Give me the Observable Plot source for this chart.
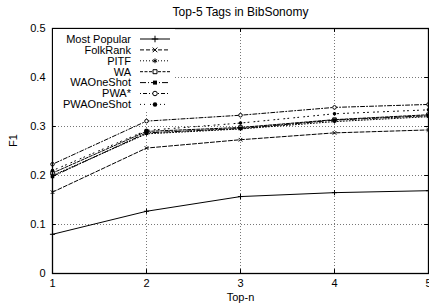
<!DOCTYPE html>
<html>
<head>
<meta charset="utf-8">
<script src="https://cdn.jsdelivr.net/npm/d3@7"></script>
<script src="https://cdn.jsdelivr.net/npm/@observablehq/plot@0.6"></script>
<style>
  html, body { margin: 0; padding: 0; background: #fff; }
  body { width: 429px; height: 307px; overflow: hidden; font-family: "Liberation Sans", Arial, sans-serif; }
  #title { height: 22px; line-height: 24px; font-size: 12px; text-align: center; padding-left: 52px; box-sizing: border-box; color: #000; }
  svg { display: block; }
</style>
</head>
<body>
<div id="title">Top-5 Tags in BibSonomy</div>
<div id="chart"></div>
<script>
const topN = [1, 2, 3, 4, 5];
const seriesNames = ["Most Popular", "FolkRank", "PITF", "WA", "WAOneShot", "PWA*", "PWAOneShot"];
const mostPopular = [0.080, 0.127, 0.157, 0.165, 0.169];
const folkRank    = [0.166, 0.256, 0.273, 0.287, 0.293];
const pitf        = [0.200, 0.285, 0.295, 0.310, 0.320];
const wa          = [0.205, 0.290, 0.298, 0.314, 0.324];
const waOneShot   = [0.198, 0.287, 0.296, 0.313, 0.322];
const pwaStar     = [0.223, 0.311, 0.323, 0.339, 0.345];
const pwaOneShot  = [0.210, 0.292, 0.307, 0.326, 0.334];
const yTicks = [0, 0.1, 0.2, 0.3, 0.4, 0.5];
const yTickLabels = ["0", "0.1", "0.2", "0.3", "0.4", "0.5"];

const seriesValues = [mostPopular, folkRank, pitf, wa, waOneShot, pwaStar, pwaOneShot];
const styles = [
  {dash: null,        symbol: "plus",     fill: "none",  stroke: "#000"},
  {dash: "4,2",       symbol: "times",    fill: "none",  stroke: "#000"},
  {dash: "1,2",       symbol: "asterisk", fill: "none",  stroke: "#000"},
  {dash: "3,1.5",     symbol: "square",   fill: "white", stroke: "#000"},
  {dash: "6,2,1,2",   symbol: "square",   fill: "#000",  stroke: "none"},
  {dash: "1,2,4,2",   symbol: "circle",   fill: "white", stroke: "#000"},
  {dash: "1,3,1,5",   symbol: "circle",   fill: "#000",  stroke: "none"}
];

const seriesData = seriesNames.map((name, i) =>
  topN.map((x, j) => ({series: name, x, y: seriesValues[i][j]})));

const marks = [
  Plot.gridX([2, 3, 4], {stroke: "#777", strokeOpacity: 1, strokeDasharray: "1,2"}),
  Plot.gridY([0.1, 0.2, 0.3, 0.4], {stroke: "#777", strokeOpacity: 1, strokeDasharray: "1,2"}),
  // inward ticks (gnuplot style), mirrored
  Plot.ruleX(topN, {x: d => d, y1: 0, y2: 0.008, stroke: "#000"}),
  Plot.ruleX(topN, {x: d => d, y1: 0.5, y2: 0.492, stroke: "#000"}),
  Plot.ruleY(yTicks, {y: d => d, x1: 1, x2: 1.04, stroke: "#000"}),
  Plot.ruleY(yTicks, {y: d => d, x1: 5, x2: 4.96, stroke: "#000"})
];
seriesData.forEach((d, i) => {
  const s = styles[i];
  marks.push(Plot.line(d, {x: "x", y: "y", stroke: "#000", strokeWidth: 1, strokeDasharray: s.dash}));
});
seriesData.forEach((d, i) => {
  const s = styles[i];
  marks.push(Plot.dot(d, {x: "x", y: "y", symbol: () => s.symbol, r: s.symbol === "square" ? 2 : 1.8,
    fill: s.fill, stroke: s.stroke, strokeWidth: 1}));
});
marks.push(Plot.frame({stroke: "#000", strokeWidth: 1.3}));
marks.push(Plot.axisX({ticks: topN, tickSize: 0, tickPadding: 6, tickFormat: d => String(d), label: null, fontSize: 11}));
marks.push(Plot.axisY({ticks: yTicks, tickSize: 0, tickPadding: 7, tickFormat: (d, i) => yTickLabels[yTicks.indexOf(d)], label: null, fontSize: 11}));
marks.push(Plot.text(["F1"], {frameAnchor: "left", dx: -39, dy: -4, rotate: -90, fontSize: 11, fill: "#000"}));
marks.push(Plot.text(["Top-n"], {frameAnchor: "bottom", dy: 27, fontSize: 11, fill: "#000"}));

const plot = Plot.plot({
  width: 429,
  height: 285,
  marginLeft: 52,
  marginRight: 1,
  marginTop: 6,
  marginBottom: 34,
  style: {fontFamily: "'Liberation Sans', Arial, sans-serif", fontSize: "11px", color: "#000", background: "white"},
  x: {domain: [1, 5]},
  y: {domain: [0, 0.5]},
  marks
});
document.getElementById("chart").appendChild(plot);

// legend (gnuplot-style key with opaque background)
const svg = d3.select(plot);
const x0 = plot.scale("x").apply(1);
const yTop = plot.scale("y").apply(0.5);
const key = svg.append("g");
key.append("rect").attr("x", x0 + 1).attr("y", yTop + 1).attr("width", 122).attr("height", 81).attr("fill", "white");
seriesNames.forEach((name, i) => {
  const s = styles[i];
  const cy = yTop + 11 + i * 10.9;
  key.append("text").attr("x", x0 + 79).attr("y", cy).attr("dy", "0.35em")
    .attr("text-anchor", "end").attr("font-size", 11).attr("fill", "#000").text(name);
  key.append("line").attr("x1", x0 + 88).attr("x2", x0 + 118).attr("y1", cy).attr("y2", cy)
    .attr("stroke", "#000").attr("stroke-dasharray", s.dash);
  const sym = d3.symbol(({plus: d3.symbolPlus, times: d3.symbolTimes, asterisk: d3.symbolAsterisk, square: d3.symbolSquare, circle: d3.symbolCircle})[s.symbol], 16);
  key.append("path").attr("d", sym()).attr("transform", `translate(${x0 + 103},${cy})`)
    .attr("fill", s.fill).attr("stroke", s.stroke);
});
</script>
</body>
</html>
